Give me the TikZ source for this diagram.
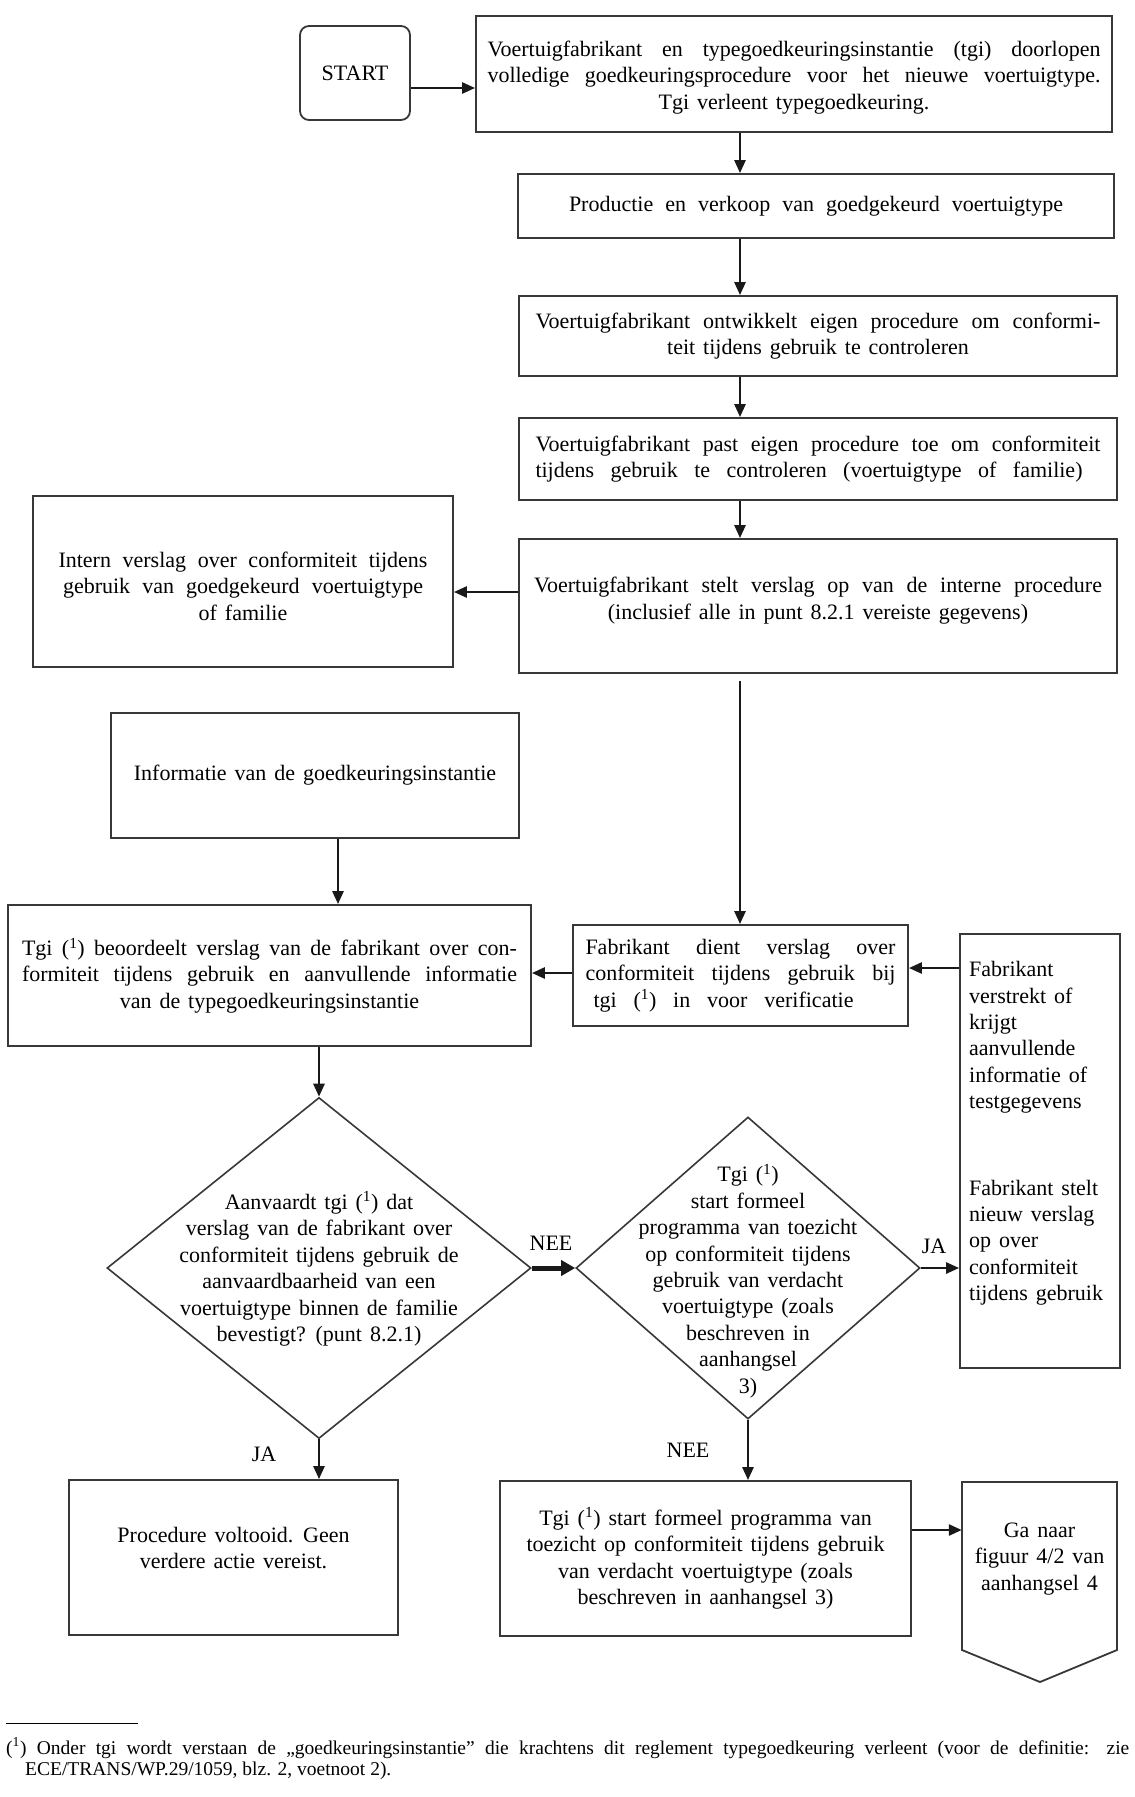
\documentclass[tikz,border=0pt]{standalone}
\usepackage{fontspec}
\setmainfont{Liberation Serif}
\usetikzlibrary{shapes.geometric,arrows.meta}
\newcommand\mfont{\fontsize{22}{26.4}\selectfont\spaceskip=0.36em plus 0.3em minus 0.06em\relax}
\newcommand\ffont{\fontsize{19.5}{21}\selectfont}
\newcommand\jl[2]{\makebox[#1][s]{#2}}
\newcommand\fnm{(\textsuperscript{1})}
\begin{document}
\begin{tikzpicture}[x=1pt,y=-1pt,
  box/.style={draw=black!78, line width=1.8pt, rectangle, inner sep=0pt, align=center, font=\mfont, text=black},
  txt/.style={inner sep=0pt, align=center, font=\mfont, text=black},
  arr/.style={draw=black!90, line width=2.6pt, -{Triangle[length=13pt,width=11pt]}},
  dec/.style={draw=black!78, line width=1.6pt, diamond, inner sep=0pt},
]
\useasboundingbox (0,0) rectangle (1135,1797);
\fill[white] (0,0) rectangle (1135,1797);

% helper coordinates
\coordinate (xr) at (740,0);
\coordinate (y592) at (0,592);
\coordinate (y973) at (0,973);
\coordinate (y968) at (0,968);
\coordinate (y1530) at (0,1530);

% boxes
\node[box, rounded corners=9pt, minimum width=110pt, minimum height=94pt] (start) at (355,73) {START};
\node[box, minimum width=636pt, minimum height=116pt] (b1) at (794,74) {};
\node[txt] (b1t) at (794,77.4)
  {\jl{613pt}{Voertuigfabrikant en typegoedkeuringsinstantie (tgi) doorlopen}\\
   \jl{613pt}{volledige goedkeuringsprocedure voor het nieuwe voertuigtype.}\\
   Tgi verleent typegoedkeuring.};
\node[box, minimum width=596pt, minimum height=64pt] (b2) at (816,206)
  {\jl{494pt}{Productie en verkoop van goedgekeurd voertuigtype}};
\node[box, minimum width=598pt, minimum height=80pt] (b3) at (818,336)
  {\jl{565pt}{Voertuigfabrikant ontwikkelt eigen procedure om conformi-}\\
   teit tijdens gebruik te controleren};
\node[box, minimum width=598pt, minimum height=82pt] (b4) at (818,459)
  {\jl{565pt}{Voertuigfabrikant past eigen procedure toe om conformiteit}\\
   \makebox[565pt][l]{\jl{547pt}{tijdens gebruik te controleren (voertuigtype of familie)}}};
\node[box, minimum width=598pt, minimum height=134pt] (b5) at (818,606) {};
\node[txt] (b5t) at (818,600.5)
  {\jl{568pt}{Voertuigfabrikant stelt verslag op van de interne procedure}\\
   (inclusief alle in punt 8.2.1 vereiste gegevens)};
\node[box, minimum width=420pt, minimum height=171pt] (intern) at (243,581.5) {};
\node[txt] (internt) at (243,586)
  {\jl{369pt}{Intern verslag over conformiteit tijdens}\\
   \jl{360pt}{gebruik van goedgekeurd voertuigtype}\\
   of familie};
\node[box, minimum width=408pt, minimum height=125pt] (info) at (315,775.5)
  {Informatie van de goedkeuringsinstantie};
\node[box, minimum width=523pt, minimum height=141pt] (tgi) at (269.5,975.5)
  {\jl{495pt}{Tgi \fnm{} beoordeelt verslag van de fabrikant over con-}\\
   \jl{495pt}{formiteit tijdens gebruik en aanvullende informatie}\\
   van de typegoedkeuringsinstantie};
\node[box, minimum width=335pt, minimum height=101pt] (fab) at (740.5,975.5)
  {\jl{310pt}{Fabrikant dient verslag over}\\
   \jl{310pt}{conformiteit tijdens gebruik bij}\\
   \makebox[310pt][l]{\hbox to 8pt{}\jl{260pt}{tgi \fnm{} in voor verificatie}}};
\node[box, minimum width=160pt, minimum height=434pt] (rb) at (1040,1151) {};
\node[txt, anchor=west, align=left] (rbt) at (969,1133.5)
  {Fabrikant\\verstrekt of\\krijgt\\aanvullende\\informatie of\\testgegevens\\[60pt]
   Fabrikant stelt\\nieuw verslag\\op over\\conformiteit\\tijdens gebruik};

% decisions
\node[dec, minimum width=424pt, minimum height=341pt] (d1) at (319,1268) {};
\node[txt] (d1t) at (319,1269)
  {Aanvaardt tgi \fnm{} dat\\verslag van de fabrikant over\\conformiteit tijdens gebruik de\\
   aanvaardbaarheid van een\\voertuigtype binnen de familie\\bevestigt? (punt 8.2.1)};
\node[dec, minimum width=344pt, minimum height=302pt] (d2) at (748,1268) {};
\node[txt] (d2t) at (748,1281)
  {Tgi \fnm{}\\start formeel\\programma van toezicht\\op conformiteit tijdens\\gebruik van verdacht\\
   voertuigtype (zoals\\beschreven in\\aanhangsel\\3)};

% bottom row
\node[box, minimum width=329pt, minimum height=155pt] (proc) at (233.5,1557.5) {};
\node[txt] (proct) at (233.5,1548)
  {Procedure voltooid. Geen\\verdere actie vereist.};
\node[box, minimum width=411pt, minimum height=155pt] (tstart) at (705.5,1558.5)
  {Tgi \fnm{} start formeel programma van\\toezicht op conformiteit tijdens gebruik\\
   van verdacht voertuigtype (zoals\\beschreven in aanhangsel 3)};
\draw[draw=black!78, line width=1.8pt] (962,1482) -- (1117,1482) -- (1117,1650) -- (1040,1682) -- (962,1650) -- cycle;
\node[txt, minimum width=155pt] (ga) at (1039.5,1559) {Ga naar\\figuur 4/2 van\\aanhangsel 4};

% labels
\node[txt] (lnee1) at (551,1243) {NEE};
\node[txt] (lja1) at (934,1246) {JA};
\node[txt] (lja2) at (264,1454) {JA};
\node[txt] (lnee2) at (688,1450) {NEE};

% connectors
\draw[arr] ([yshift=-15pt]start.east) -- ([yshift=-15pt]start.east -| b1.west);
\draw[arr] (b1.south -| xr) -- (b2.north -| xr);
\draw[arr] (b2.south -| xr) -- (b3.north -| xr);
\draw[arr] (b3.south -| xr) -- (b4.north -| xr);
\draw[arr] (b4.south -| xr) -- (b5.north -| xr);
\draw[arr, shorten <=7pt] (b5.south -| xr) -- (fab.north -| xr);
\draw[arr] (b5.west |- y592) -- (intern.east |- y592);
\draw[arr] ([xshift=23pt]info.south) -- ([xshift=23pt]info.south |- tgi.north);
\draw[arr] (fab.west |- y973) -- (tgi.east |- y973);
\draw[arr] (rb.west |- y968) -- (fab.east |- y968);
\draw[arr] (tgi.south -| d1.north) -- (d1.north);
\draw[arr, line width=5pt, -{Triangle[length=14pt,width=15pt]}] (d1.east) -- (d2.west);
\draw[arr] (d2.east) -- (rb.west |- d2.east);
\draw[arr] (d1.south) -- (proc.north -| d1.south);
\draw[arr] (d2.south) -- (tstart.north -| d2.south);
\draw[arr] (tstart.east |- y1530) -- (ga.west |- y1530);

% footnote
\draw[line width=1pt] (6,1723) -- (138,1723);
\node[inner sep=0pt, anchor=west, align=left, font=\ffont] (foot) at (6,1758.5)
  {\jl{1123pt}{\fnm\ Onder tgi wordt verstaan de „goedkeuringsinstantie” die krachtens dit reglement typegoedkeuring verleent (voor de definitie: zie}\\
   \hbox to 19pt{}ECE/TRANS/WP.29/1059, blz. 2, voetnoot 2).};
\end{tikzpicture}
\end{document}
